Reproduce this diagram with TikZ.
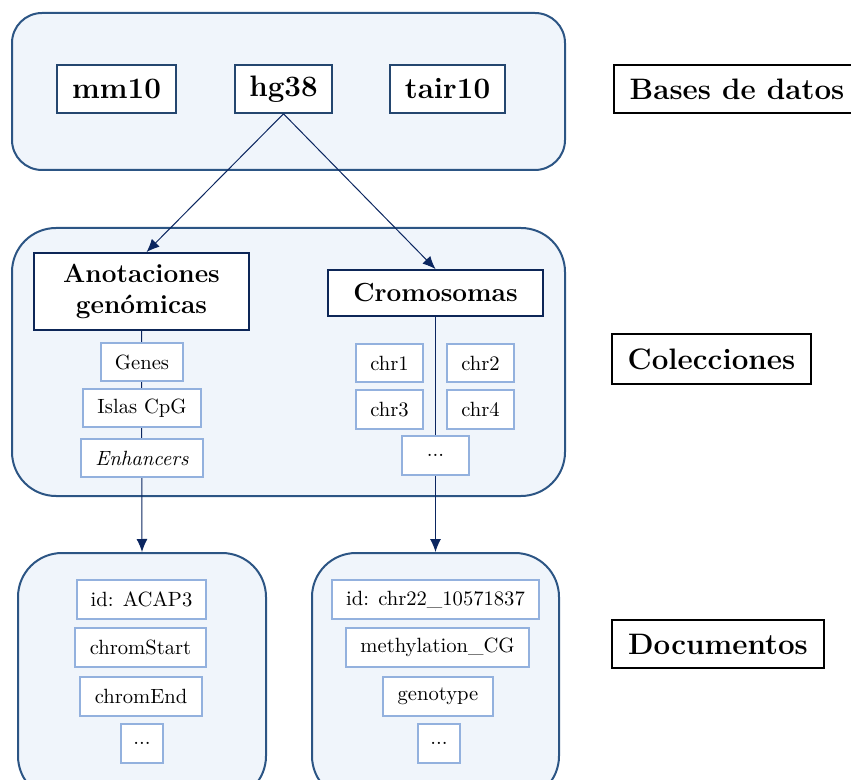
\documentclass[tikz,border=0pt]{standalone}
\usetikzlibrary{arrows.meta}
\definecolor{panelfill}{HTML}{F0F5FB}
\definecolor{panelline}{HTML}{2C5584}
\definecolor{dbline}{HTML}{24466F}
\definecolor{mainline}{HTML}{0D2657}
\definecolor{itemline}{HTML}{93B1DE}
\definecolor{arrowcol}{HTML}{0B2660}
\begin{document}
\begin{tikzpicture}[x=0.5pt,y=-0.5pt,
  panel/.style={draw=panelline, line width=1pt, fill=panelfill, inner sep=0pt},
  dbbox/.style={draw=dbline, line width=0.8pt, fill=white, inner sep=0pt,
    font=\fontsize{14.8}{16.5}\selectfont\bfseries},
  mainbox/.style={draw=mainline, line width=0.9pt, fill=white, inner sep=0pt,
    font=\fontsize{13.1}{15.5}\selectfont\bfseries, align=center},
  itembox/.style={draw=itemline, line width=0.8pt, fill=white, inner sep=0pt,
    font=\fontsize{10.3}{12}\selectfont},
  levelbox/.style={draw=black, line width=0.7pt, fill=white, inner sep=0pt,
    font=\fontsize{14.8}{16.5}\selectfont\bfseries},
  link/.style={draw=arrowcol, line width=0.5pt, -{Latex[length=6.5pt,width=5.5pt]}},
]
\useasboundingbox (0,0) rectangle (851,780);

% panels
\node[panel, rounded corners=15pt, minimum width=276.5pt, minimum height=78.5pt] (dbpanel) at (288.5,91.5) {};
\node[panel, rounded corners=22pt, minimum width=276.5pt, minimum height=134pt] (colpanel) at (288.5,362) {};
\node[panel, rounded corners=22pt, minimum width=124pt, minimum height=123.5pt] (docL) at (142,676.5) {};
\node[panel, rounded corners=22pt, minimum width=123.5pt, minimum height=123.5pt] (docR) at (435.5,676.5) {};

% databases
\node[dbbox, minimum width=59.5pt, minimum height=24pt] (mm10) at (116.5,89) {mm10};
\node[dbbox, minimum width=48.5pt, minimum height=24pt] (hg38) at (283.5,89) {hg38};
\node[dbbox, minimum width=57.5pt, minimum height=24pt] (tair10) at (447.5,89) {tair10};

% collections
\node[mainbox, minimum width=107.5pt, minimum height=38.5pt] (anot) at (141.5,291.5) {Anotaciones\\genómicas};
\node[mainbox, minimum width=107.5pt, minimum height=23pt] (crom) at (435.5,293) {Cromosomas};

% connectors
\draw[link] (hg38.south) -- ([xshift=2.5pt]anot.north);
\draw[link] (hg38.south) -- (crom.north);
\draw[link] (anot.south) -- (docL.north);
\draw[link] (crom.south) -- (docR.north);

% annotation items
\node[itembox, minimum width=41pt, minimum height=19pt] (genes) at (142,362) {Genes};
\node[itembox, minimum width=59pt, minimum height=19pt] (islas) at (142,408) {Islas CpG};
\node[itembox, minimum width=61pt, minimum height=19pt] (enh) at (142,458) {\textit{Enhancers}};

% chromosome items
\node[itembox, minimum width=33.5pt, minimum height=19pt] (chr1) at (389.5,363) {chr1};
\node[itembox, minimum width=33.5pt, minimum height=19pt] (chr2) at (480.5,363) {chr2};
\node[itembox, minimum width=33.5pt, minimum height=19.5pt] (chr3) at (389.5,409.5) {chr3};
\node[itembox, minimum width=33.5pt, minimum height=19.5pt] (chr4) at (480.5,409.5) {chr4};
\node[itembox, minimum width=33.5pt, minimum height=19.5pt] (chrmore) at (435.5,455.5) {...};

% document fields
\node[itembox, minimum width=64.5pt, minimum height=19.5pt] (idL) at (141.5,599.5) {id: ACAP3};
\node[itembox, minimum width=65.5pt, minimum height=19.5pt] (startL) at (140.5,647.5) {chromStart};
\node[itembox, minimum width=61pt, minimum height=19.5pt] (endL) at (141,696.5) {chromEnd};
\node[itembox, minimum width=21pt, minimum height=19.5pt] (moreL) at (142,743.5) {...};

\node[itembox, minimum width=103.5pt, minimum height=19.5pt] (idR) at (435.5,599.5) {id: chr22\_10571837};
\node[itembox, minimum width=91.5pt, minimum height=19.5pt] (methR) at (437.5,647.5) {methylation\_CG};
\node[itembox, minimum width=55pt, minimum height=19.5pt] (genoR) at (438,696.5) {genotype};
\node[itembox, minimum width=21pt, minimum height=19.5pt] (moreR) at (439,743.5) {...};

% level labels
\node[levelbox, minimum width=123pt, minimum height=24pt] (lvldb) at (737,89) {Bases de datos};
\node[levelbox, minimum width=99.5pt, minimum height=25pt] (lvlcol) at (711.5,359) {Colecciones};
\node[levelbox, minimum width=106pt, minimum height=24pt] (lvldoc) at (718,644) {Documentos};
\end{tikzpicture}
\end{document}
